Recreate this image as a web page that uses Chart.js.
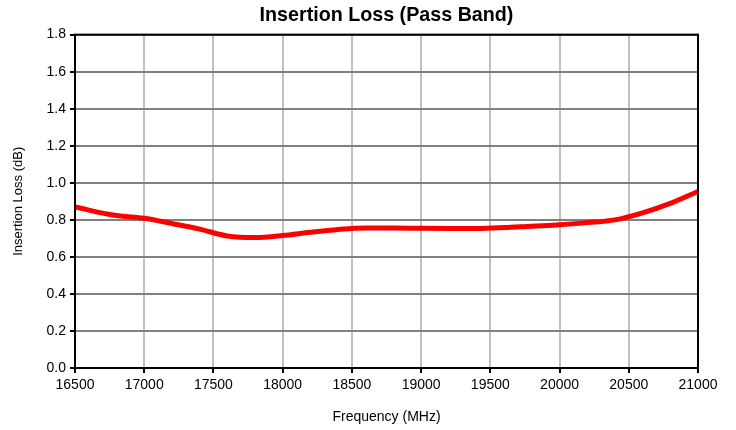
<!DOCTYPE html>
<html>
<head>
<meta charset="utf-8">
<script src="https://cdn.jsdelivr.net/npm/chart.js@4/dist/chart.umd.min.js"></script>
<style>
html,body{margin:0;padding:0;background:#fff;}
#wrap{width:736px;height:430px;}
</style>
</head>
<body>
<div id="wrap"><canvas id="c" width="736" height="430"></canvas></div>
<script>
const chartTitle = "Insertion Loss (Pass Band)";
const xTitle = "Frequency (MHz)";
const yTitle = "Insertion Loss (dB)";
const frequencies = [16500, 16800, 17000, 17200, 17400, 17600, 17800, 18000, 18200, 18400, 18600, 18800, 19000, 19200, 19400, 19600, 19800, 20000, 20200, 20400, 20600, 20800, 21000];
const insertionLoss = [0.869, 0.823, 0.809, 0.780, 0.750, 0.713, 0.704, 0.715, 0.733, 0.748, 0.756, 0.756, 0.754, 0.753, 0.753, 0.758, 0.766, 0.773, 0.785, 0.800, 0.838, 0.889, 0.953];
const xTicks = [16500, 17000, 17500, 18000, 18500, 19000, 19500, 20000, 20500, 21000];
const yTicks = [0.0, 0.2, 0.4, 0.6, 0.8, 1.0, 1.2, 1.4, 1.6, 1.8];

const points = frequencies.map((f, i) => ({x: f, y: insertionLoss[i]}));

const frame = {
  id: 'frame',
  afterDatasetsDraw(chart) {
    const a = chart.chartArea, ctx = chart.ctx;
    ctx.save();
    ctx.strokeStyle = '#000';
    ctx.lineWidth = 2;
    ctx.strokeRect(a.left, a.top, a.right - a.left, a.bottom - a.top);
    ctx.restore();
  }
};

Chart.defaults.font.family = "'Liberation Sans', Arial, sans-serif";
Chart.defaults.color = '#000';

new Chart(document.getElementById('c'), {
  type: 'line',
  data: {
    datasets: [{
      data: points,
      borderColor: '#ff0000',
      borderWidth: 5,
      pointRadius: 0,
      tension: 0.3,
      cubicInterpolationMode: 'monotone',
      fill: false
    }]
  },
  options: {
    responsive: false,
    animation: false,
    layout: {padding: {left: 11, right: 38, top: 0, bottom: 0}},
    plugins: {
      legend: {display: false},
      tooltip: {enabled: false},
      title: {
        display: true,
        fullSize: false,
        text: chartTitle,
        color: '#000',
        font: {size: 19.7, weight: 'bold'},
        padding: {top: 4, bottom: 7}
      }
    },
    scales: {
      x: {
        type: 'linear',
        min: 16500, max: 21000,
        afterBuildTicks(s) { s.ticks = xTicks.map(v => ({value: v})); },
        afterFit(s) { s.height = 62; },
        ticks: {font: {size: 14}, padding: 4, maxRotation: 0, callback: v => String(v)},
        grid: {color: '#c0c0c0', lineWidth: 2, tickColor: '#000', tickLength: 5, drawTicks: true},
        border: {color: '#000', width: 2},
        title: {display: true, text: xTitle, font: {size: 14}, padding: {top: 11}}
      },
      y: {
        min: 0, max: 1.8,
        afterBuildTicks(s) { s.ticks = yTicks.map(v => ({value: v})); },
        afterFit(s) { s.width = 64; },
        ticks: {font: {size: 14}, padding: 4, callback: v => Number(v).toFixed(1)},
        grid: {color: '#808080', lineWidth: 2, tickColor: '#000', tickLength: 5},
        border: {color: '#000', width: 2},
        title: {display: true, text: yTitle, font: {size: 13}, padding: {top: 0, bottom: 2}}
      }
    }
  },
  plugins: [frame]
});
</script>
</body>
</html>
